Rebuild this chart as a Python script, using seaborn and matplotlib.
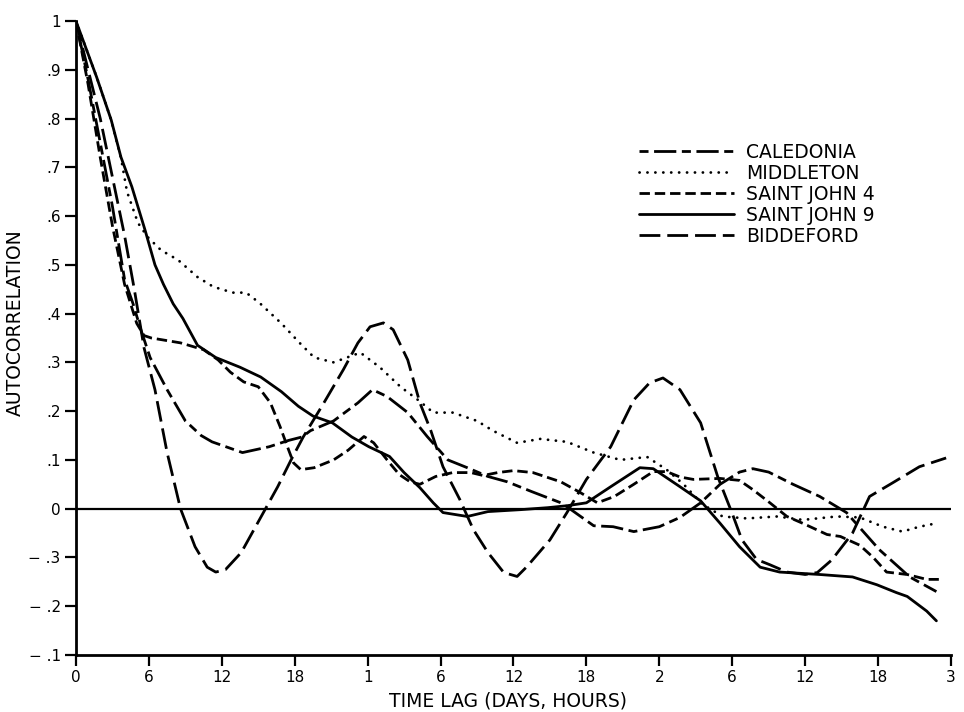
import matplotlib
matplotlib.use("Agg")
import matplotlib.pyplot as plt
import seaborn as sns

# ---------------- data ----------------
x_ticks = [0, 6, 12, 18, 24, 30, 36, 42, 48, 54, 60, 66, 72]
x_tick_labels = ["0", "6", "12", "18", "1", "6", "12", "18", "2", "6", "12", "18", "3"]
y_ticks = [1.0, 0.9, 0.8, 0.7, 0.6, 0.5, 0.4, 0.3, 0.2, 0.1, 0.0, -0.1, -0.2, -0.3]
y_tick_labels = ["1", ".9", ".8", ".7", ".6", ".5", ".4", ".3", ".2", ".1", "0",
                 "\u2212 .3", "\u2212 .2", "\u2212 .1"]

station_names = ["CALEDONIA", "MIDDLETON", "SAINT JOHN 4", "SAINT JOHN 9", "BIDDEFORD"]

caledonia_h = [0, 1, 2, 3, 4.0, 4.7, 5.3, 6.1, 7.5, 9.0, 10.3, 11.2, 12.0, 13.7, 15.9, 17.5,
               18.6, 19.3, 21.2, 23.2, 24.4, 25.6, 27.3, 28.9, 30.6, 32.2, 33.9, 35.5, 37.5,
               39.9, 40.4, 42.6, 44.2, 45.9, 48.0, 49.7, 51.4, 53.0, 54.6, 55.7, 57.0, 59.0,
               61.2, 63.4, 66.1, 68.6, 70.8]
caledonia_v = [1.0, 0.88, 0.75, 0.62, 0.47, 0.42, 0.37, 0.31, 0.244, 0.18, 0.15, 0.137, 0.13,
               0.115, 0.127, 0.14, 0.147, 0.16, 0.18, 0.217, 0.244, 0.23, 0.197, 0.148, 0.10,
               0.084, 0.066, 0.055, 0.035, 0.012, 0.004, -0.035, -0.037, -0.047, -0.037,
               -0.018, 0.012, 0.05, 0.075, 0.082, 0.075, 0.05, 0.025, -0.008, -0.084, -0.14,
               -0.17]

middleton_h = [0, 1.7, 2.9, 3.7, 4.2, 5.1, 5.9, 7.0, 8.4, 10.0, 11.3, 12.9, 14.0, 15.1, 16.9,
               18.4, 19.6, 21.2, 23.4, 25.0, 26.7, 28.3, 29.4, 31.0, 33.0, 34.3, 36.3, 38.2,
               40.4, 42.6, 44.8, 47.0, 48.6, 50.0, 51.5, 53.2, 55.2, 57.7, 59.8, 62.6, 64.5,
               66.4, 68.0, 69.4, 70.8]
middleton_v = [1.0, 0.885, 0.797, 0.72, 0.65, 0.586, 0.557, 0.53, 0.51, 0.475, 0.455, 0.443,
               0.443, 0.422, 0.38, 0.34, 0.31, 0.30, 0.32, 0.29, 0.25, 0.22, 0.197, 0.197,
               0.18, 0.16, 0.135, 0.143, 0.137, 0.115, 0.10, 0.106, 0.08, 0.05, 0.01, -0.016,
               -0.02, -0.016, -0.023, -0.016, -0.018, -0.037, -0.047, -0.037, -0.03]

saint_john4_h = [0, 1.0, 2.0, 3.0, 4.0, 5.0, 5.6, 6.2, 8.6, 10.5, 11.7, 12.7, 13.8, 15.0, 16.0,
                 16.8, 17.4, 17.9, 18.5, 19.6, 21.2, 22.4, 23.7, 24.5, 25.6, 26.6, 27.5, 28.3,
                 29.6, 31.0, 32.5, 33.5, 34.7, 36.0, 37.6, 39.9, 41.5, 42.9, 44.3, 45.9, 47.5,
                 48.6, 49.7, 50.8, 53.0, 54.6, 55.7, 57.1, 58.5, 59.8, 61.8, 62.9, 64.5, 65.6,
                 66.7, 68.4, 70.0, 71.0]
saint_john4_v = [1.0, 0.87, 0.72, 0.58, 0.46, 0.38, 0.355, 0.35, 0.34, 0.326, 0.305, 0.28, 0.26,
                 0.25, 0.217, 0.168, 0.127, 0.094, 0.08, 0.084, 0.10, 0.12, 0.148, 0.135, 0.10,
                 0.07, 0.055, 0.05, 0.066, 0.074, 0.074, 0.068, 0.074, 0.078, 0.074, 0.055,
                 0.033, 0.012, 0.025, 0.05, 0.076, 0.076, 0.065, 0.06, 0.062, 0.058, 0.039,
                 0.012, -0.016, -0.03, -0.053, -0.057, -0.075, -0.10, -0.13, -0.135, -0.145,
                 -0.145]

saint_john9_h = [0, 1.7, 2.9, 3.7, 4.6, 5.7, 6.5, 7.2, 8.0, 8.8, 10.0, 11.5, 13.5, 15.2, 16.9,
                 18.3, 19.5, 21.1, 22.7, 24.1, 25.8, 27.0, 28.3, 29.4, 30.2, 32.2, 33.9, 36.6,
                 38.8, 40.4, 42.0, 44.0, 46.4, 47.5, 49.7, 51.4, 53.0, 54.6, 56.3, 57.9, 61.2,
                 63.9, 65.9, 67.5, 68.4, 70.0, 70.8]
saint_john9_v = [1.0, 0.885, 0.797, 0.721, 0.66, 0.57, 0.50, 0.46, 0.42, 0.39, 0.335, 0.31,
                 0.29, 0.27, 0.24, 0.21, 0.19, 0.176, 0.147, 0.127, 0.107, 0.074, 0.043, 0.012,
                 -0.008, -0.016, -0.006, -0.002, 0.002, 0.006, 0.012, 0.045, 0.084, 0.082,
                 0.045, 0.016, -0.03, -0.078, -0.12, -0.13, -0.135, -0.14, -0.156, -0.172,
                 -0.18, -0.21, -0.23]

biddeford_h = [0, 1, 2, 3, 4, 4.8, 5.6, 6.5, 7.5, 8.6, 9.8, 10.8, 11.5, 12.3, 13.6, 14.6, 15.6,
               16.6, 17.7, 18.7, 20.4, 22.0, 23.2, 24.2, 25.3, 26.1, 27.3, 28.3, 29.2, 30.2,
               31.6, 32.7, 33.9, 35.2, 36.3, 37.1, 39.0, 40.4, 42.0, 44.0, 45.9, 47.2, 48.3,
               49.7, 51.4, 52.8, 54.0, 54.8, 56.0, 57.1, 58.5, 60.0, 61.0, 62.2, 63.9, 65.3,
               67.2, 69.4, 71.6]
biddeford_v = [1.0, 0.9, 0.8, 0.68, 0.56, 0.45, 0.33, 0.244, 0.115, 0.0, -0.078, -0.12, -0.13,
               -0.125, -0.09, -0.045, 0.0, 0.045, 0.10, 0.147, 0.217, 0.285, 0.34, 0.373,
               0.381, 0.367, 0.305, 0.217, 0.16, 0.086, 0.018, -0.043, -0.09, -0.131, -0.139,
               -0.119, -0.064, -0.008, 0.06, 0.127, 0.223, 0.258, 0.268, 0.244, 0.176, 0.066,
               -0.01, -0.064, -0.104, -0.115, -0.13, -0.135, -0.131, -0.105, -0.05, 0.025,
               0.053, 0.086, 0.104]

# ---------------- styling ----------------
sns.set_theme(style="ticks")
plt.rcParams["font.family"] = ["DejaVu Sans"]
plt.rcParams["lines.scale_dashes"] = False

fig = plt.figure(figsize=(9.64, 7.12), dpi=100)
fig.patch.set_facecolor("white")
ax = fig.add_axes([0.0788, 0.0801, 0.9077, 0.8904])
ax.set_facecolor("white")

series = [
    (caledonia_h, caledonia_v, (6.5, 4.0, 16.0, 4.0), "butt"),
    (middleton_h, middleton_v, (0.1, 5.6), "round"),
    (saint_john4_h, saint_john4_v, (7.5, 3.5), "butt"),
    (saint_john9_h, saint_john9_v, None, "butt"),
    (biddeford_h, biddeford_v, (15.0, 5.0), "butt"),
]

handles = []
for h, v, dash, cap in series:
    sns.lineplot(x=h, y=v, ax=ax, color="black", linewidth=2.0,
                 estimator=None, sort=False, legend=False)
    line = ax.lines[-1]
    if dash is not None:
        line.set_dashes(dash)
        line.set_dash_capstyle(cap)
    handles.append(line)

ax.axhline(0, color="black", lw=1.6, zorder=1)

ax.set_xlim(0, 72)
ax.set_ylim(-0.3, 1.0)
ax.set_xticks(x_ticks, x_tick_labels)
ax.set_yticks(y_ticks, y_tick_labels)
ax.tick_params(direction="out", length=8, width=1.6, labelsize=11, colors="black", pad=3)

for s in ["top", "right"]:
    ax.spines[s].set_visible(False)
for s in ["left", "bottom"]:
    ax.spines[s].set_linewidth(2.0)
    ax.spines[s].set_color("black")

ax.set_xlabel("TIME LAG (DAYS, HOURS)", fontsize=13.5, color="black")
ax.xaxis.set_label_coords(0.494, -0.058)
ax.set_ylabel("AUTOCORRELATION", fontsize=13.5, color="black")
ax.yaxis.set_label_coords(-0.058, 0.525)

leg = ax.legend(handles=handles, labels=station_names, loc="upper left",
                bbox_to_anchor=(0.643, 0.808), frameon=False, borderpad=0,
                borderaxespad=0, handlelength=5.1, handletextpad=0.65,
                labelspacing=0.11, fontsize=13.5)
for t in leg.get_texts():
    t.set_color("black")

fig.savefig("out.png", dpi=100)
